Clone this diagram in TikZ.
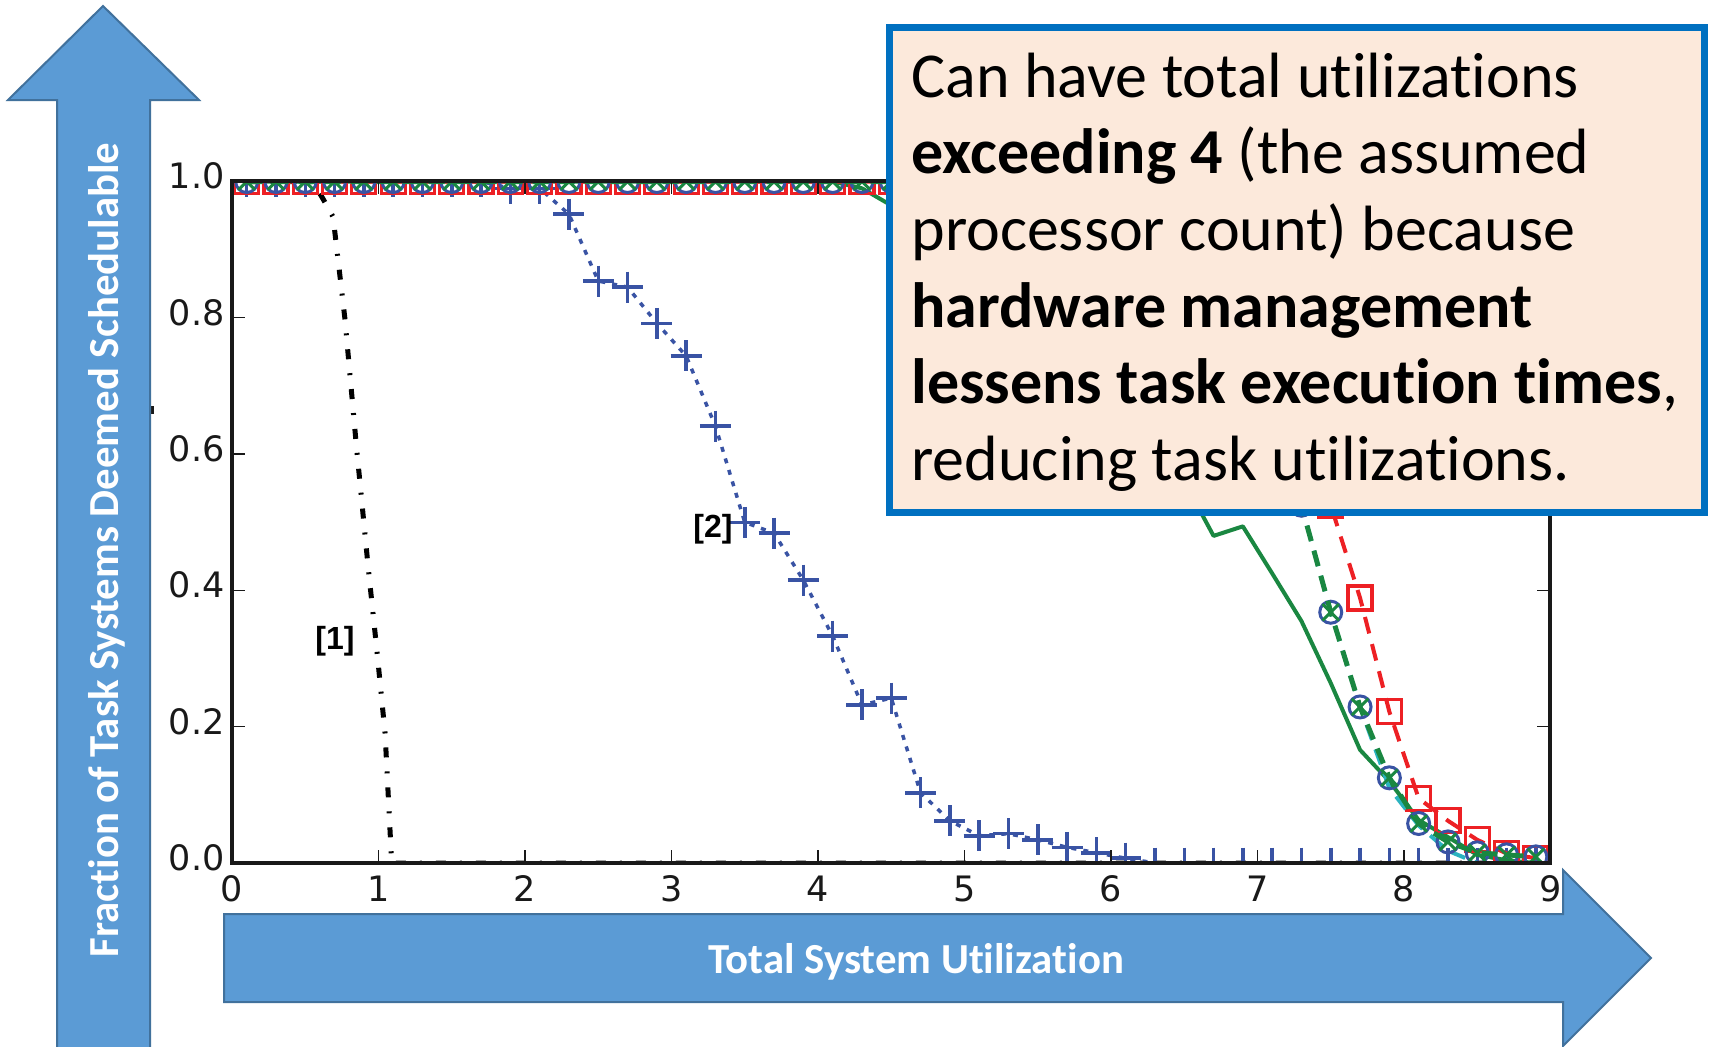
\documentclass[tikz,border=0pt]{standalone}
\usepackage{fontspec}
\setmainfont{Carlito}[Ligatures={NoCommon}]
\newfontfamily\tickfont{DejaVu Sans}
\newfontfamily\reffont{Liberation Sans}
\usetikzlibrary{plotmarks}

\definecolor{arrowfill}{HTML}{5B9BD5}
\definecolor{arrowedge}{HTML}{41719C}
\definecolor{notefill}{RGB}{252,233,219}
\definecolor{noteedge}{HTML}{0070C0}
\definecolor{plotblue}{HTML}{3953A4}
\definecolor{plotred}{HTML}{ED2024}
\definecolor{plotgreen}{HTML}{1A8741}
\definecolor{plotcyan}{HTML}{2BB3C0}
\definecolor{spinecol}{RGB}{25,25,25}

\begin{document}
\begin{tikzpicture}[x=0.5pt,y=-0.5pt,
  spine/.style={draw=spinecol, line width=1.75pt},
  tickmark/.style={draw=spinecol, line width=0.65pt},
  xtl/.style={font=\tickfont\fontsize{17.5pt}{17.5pt}\selectfont, text=spinecol, inner sep=0pt, text height=0.73em, text depth=0pt, anchor=center},
  ytl/.style={xtl, anchor=east},
  bigarrow/.style={fill=arrowfill, draw=arrowedge, line width=1pt, line join=miter},
  axislabel/.style={font=\bfseries\fontsize{21.4pt}{21.4pt}\selectfont, text=white, inner sep=0pt},
  reflabel/.style={font=\reffont\bfseries\fontsize{16pt}{16pt}\selectfont, inner sep=0pt},
  note/.style={draw=noteedge, fill=notefill, line width=3.5pt, inner sep=0pt},
  notetext/.style={font=\fontsize{32pt}{38pt}\selectfont, inner sep=0pt, anchor=base west},
  serA/.style={black, line width=2.5pt, dash pattern=on 5pt off 7pt on 1pt off 7pt},
  serB/.style={plotblue, line width=1.75pt, dash pattern=on 2.5pt off 3.5pt,
    mark size=7.75pt, mark options={solid, line width=1.75pt}},
  serC/.style={plotgreen, line width=2pt, line join=round},
  serD/.style={plotred, line width=2pt, dash pattern=on 8.5pt off 5.5pt,
    mark size=6pt, mark options={solid, line width=1.6pt}},
  serE/.style={plotcyan, line width=2pt, dash pattern=on 8pt off 5pt},
  serF/.style={plotblue, line width=1.5pt, mark size=5.5pt, mark options={solid, line width=1.5pt}},
  serG/.style={plotgreen, line width=2.5pt, dash pattern=on 8pt off 5pt,
    mark size=5.8pt, mark options={solid, line width=1.5pt}}
]
\useasboundingbox[fill=white] (0,0) rectangle (1714,1046);

% ---- data curves, clipped to the axes box ----
\begin{scope}
\clip (232,181) rectangle (1550,863);
\begin{scope}[shift={(232,863)}, x=73.25pt, y=340.75pt]
  % [1]
  \draw[serA] (0.1,1) -- (0.55,1) -- (0.62,0.975) -- (0.69,0.948) -- (0.77,0.80)
    -- (0.85,0.61) -- (0.93,0.433) -- (0.99,0.31) -- (1.045,0.19) -- (1.09,0) -- (9,0);
  % [2]
  \draw[serB] plot[mark=+] coordinates {(0.1,1)(0.3,1)(0.5,1)(0.7,1)(0.9,1)(1.1,1)(1.3,1)(1.5,1)(1.7,1)
    (1.9,0.99)(2.1,0.99)(2.3,0.952)(2.5,0.854)(2.7,0.845)(2.9,0.792)(3.1,0.744)(3.3,0.641)
    (3.5,0.5)(3.7,0.484)(3.9,0.415)(4.1,0.333)(4.3,0.232)(4.5,0.242)(4.7,0.103)(4.9,0.062)
    (5.1,0.04)(5.3,0.043)(5.5,0.034)(5.7,0.023)(5.9,0.015)(6.1,0.007)(6.3,0)(6.5,0)(6.7,0)
    (6.9,0)(7.1,0)(7.3,0)(7.5,0)(7.7,0)(7.9,0)(8.1,0)(8.3,0)(8.5,0)(8.7,0)(8.9,0)};
  % solid green
  \draw[serC] (0.1,1) -- (4.1,1) -- (4.3,0.99) -- (4.5,0.965) -- (4.7,0.94) -- (4.9,0.91)
    -- (5.1,0.87) -- (5.3,0.83) -- (5.5,0.78) -- (5.7,0.73) -- (5.9,0.68) -- (6.1,0.64)
    -- (6.3,0.6) -- (6.5,0.56) -- (6.7,0.48) -- (6.9,0.494) -- (7.1,0.425) -- (7.3,0.355)
    -- (7.5,0.264) -- (7.7,0.166) -- (7.9,0.12) -- (8.1,0.063) -- (8.3,0.038) -- (8.5,0.012)
    -- (8.7,0.004) -- (8.9,0);
  % red squares
  \draw[serD] plot[mark=square] coordinates {(0.1,1)(0.3,1)(0.5,1)(0.7,1)(0.9,1)(1.1,1)(1.3,1)
    (1.5,1)(1.7,1)(1.9,1)(2.1,1)(2.3,1)(2.5,1)(2.7,1)(2.9,1)(3.1,1)(3.3,1)(3.5,1)(3.7,1)(3.9,1)
    (4.1,1)(4.3,1)(4.5,1)(4.7,1)(4.9,1)(5.1,1)(5.3,1)(5.5,1)(5.7,1)(5.9,1)(6.1,1)
    (6.3,0.99)(6.5,0.97)(6.7,0.93)(6.9,0.87)(7.1,0.78)(7.3,0.66)(7.5,0.525)(7.7,0.389)
    (7.9,0.222)(8.1,0.095)(8.3,0.062)(8.5,0.034)(8.7,0.014)(8.9,0.007)};
  % cyan dashes
  \draw[serE] (0.1,1) -- (5.9,1) -- (6.1,0.99) -- (6.3,0.97) -- (6.5,0.93) -- (6.7,0.86)
    -- (6.9,0.76) -- (7.1,0.65) -- (7.3,0.525) -- (7.5,0.368) -- (7.7,0.229) -- (7.9,0.11)
    -- (8.1,0.055) -- (8.3,0.018) -- (8.5,0) -- (8.9,0);
  % blue circles
  \draw[serF] plot[only marks, mark=o] coordinates {(0.1,1)(0.3,1)(0.5,1)(0.7,1)(0.9,1)(1.1,1)
    (1.3,1)(1.5,1)(1.7,1)(1.9,1)(2.1,1)(2.3,1)(2.5,1)(2.7,1)(2.9,1)(3.1,1)(3.3,1)(3.5,1)(3.7,1)
    (3.9,1)(4.1,1)(4.3,1)(4.5,1)(4.7,1)(4.9,1)(5.1,1)(5.3,1)(5.5,1)(5.7,1)(5.9,1)
    (6.1,0.99)(6.3,0.97)(6.5,0.93)(6.7,0.86)(6.9,0.76)(7.1,0.65)(7.3,0.525)(7.5,0.368)
    (7.7,0.229)(7.9,0.125)(8.1,0.058)(8.3,0.031)(8.5,0.015)(8.7,0.012)(8.9,0.009)};
  % green crosses
  \draw[serG] plot[mark=x] coordinates {(0.1,1)(0.3,1)(0.5,1)(0.7,1)(0.9,1)(1.1,1)
    (1.3,1)(1.5,1)(1.7,1)(1.9,1)(2.1,1)(2.3,1)(2.5,1)(2.7,1)(2.9,1)(3.1,1)(3.3,1)(3.5,1)(3.7,1)
    (3.9,1)(4.1,1)(4.3,1)(4.5,1)(4.7,1)(4.9,1)(5.1,1)(5.3,1)(5.5,1)(5.7,1)(5.9,1)
    (6.1,0.99)(6.3,0.97)(6.5,0.93)(6.7,0.86)(6.9,0.76)(7.1,0.65)(7.3,0.525)(7.5,0.368)
    (7.7,0.229)(7.9,0.125)(8.1,0.058)(8.3,0.031)(8.5,0.015)(8.7,0.012)(8.9,0.009)};
\end{scope}
\end{scope}

% ---- axes frame and ticks ----
\draw[spine] (232,181) rectangle (1550,863);
\foreach \k in {1,...,8} {
  \draw[tickmark] (232+146.5*\k,863) -- ++(0,-13);
  \draw[tickmark] (232+146.5*\k,181) -- ++(0,13);
}
\foreach \k in {1,...,4} {
  \draw[tickmark] (232,863-136.3*\k) -- ++(13,0);
  \draw[tickmark] (1550,863-136.3*\k) -- ++(-13,0);
}
\foreach \k in {0,...,9}
  \node[xtl] (xt\k) at (232+146.5*\k,894) {\k};
\foreach \k/\t in {0/0.0,1/0.2,2/0.4,3/0.6,4/0.8,5/1.0}
  \node[ytl] (yt\k) at (225,863-136.3*\k) {\t};

\fill[spinecol] (151,406) rectangle (154,414);

% ---- curve labels ----
\node[reflabel] (ref1) at (335,641) {[1]};
\node[reflabel] (ref2) at (713,529) {[2]};

% ---- axis arrows ----
\filldraw[bigarrow] (57,1052) -- (57,100) -- (8,100) -- (103,6) -- (199,100) -- (150,100) -- (150,1052) -- cycle;
\filldraw[bigarrow] (224,914) -- (1563,914) -- (1563,870) -- (1651,958) -- (1563,1046) -- (1563,1002) -- (224,1002) -- cycle;
\node[axislabel, rotate=90, anchor=base] (ylab) at (118,550) {Fraction of Task Systems Deemed Schedulable};
\node[axislabel, anchor=base] (xlab) at (916,973) {Total System Utilization};

% ---- explanatory note ----
\node[note, minimum width=407.5pt, minimum height=242.5pt] (notebox) at (1297,270) {};
\node[notetext] (n1) at (911,97) {Can have total utilizations};
\node[notetext] (n2) at (911,173) {\textbf{exceeding 4} (the assumed};
\node[notetext] (n3) at (911,250) {processor count) because};
\node[notetext] (n4) at (911,327) {\textbf{hardware management}};
\node[notetext] (n5) at (911,403) {\textbf{lessens task execution times},};
\node[notetext] (n6) at (911,480) {reducing task utilizations.};
\end{tikzpicture}
\end{document}
